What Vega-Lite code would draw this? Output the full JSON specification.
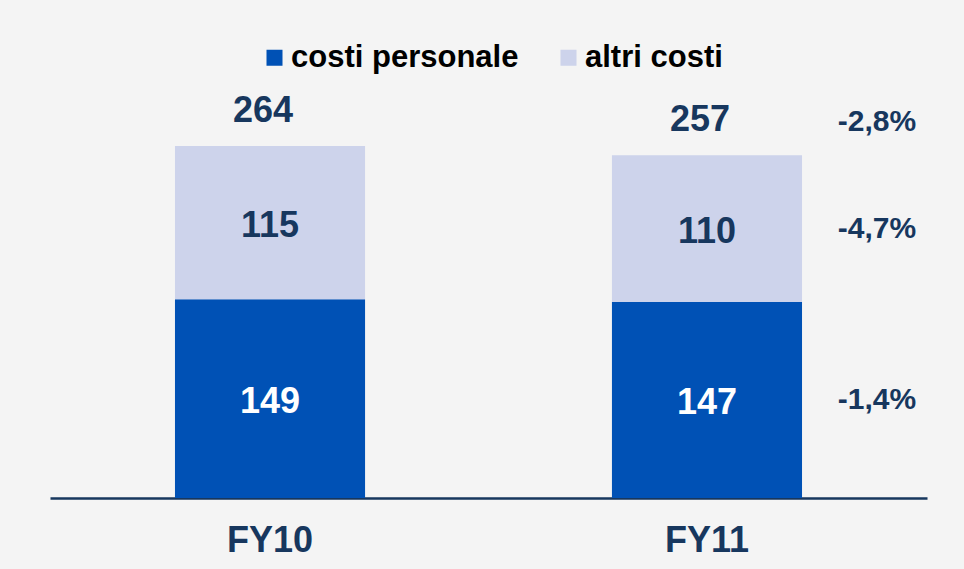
{
  "$schema": "https://vega.github.io/schema/vega-lite/v6.json",
  "width": 877,
  "height": 400,
  "autosize": {"type": "none"},
  "padding": {"left": 50, "top": 98, "right": 37, "bottom": 71},
  "background": "#f4f4f4",
  "config": {
    "view": {"stroke": null},
    "font": "Liberation Sans",
    "text": {"font": "Liberation Sans", "fontWeight": "bold"}
  },
  "datasets": {
    "seg": [
      {"cat": "FY10", "tipo": "costi personale", "ord": 1, "value": 149, "pct": null},
      {"cat": "FY10", "tipo": "altri costi", "ord": 2, "value": 115, "pct": null},
      {"cat": "FY11", "tipo": "costi personale", "ord": 1, "value": 147, "pct": "-1,4%"},
      {"cat": "FY11", "tipo": "altri costi", "ord": 2, "value": 110, "pct": "-4,7%"}
    ],
    "tot": [
      {"cat": "FY10", "total": 264, "pct": null},
      {"cat": "FY11", "total": 257, "pct": "-2,8%"}
    ]
  },
  "layer": [
    {
      "data": {"name": "seg"},
      "mark": {"type": "bar"},
      "encoding": {
        "x": {
          "field": "cat", "type": "nominal", "sort": ["FY10", "FY11"],
          "scale": {"paddingInner": 0.565, "paddingOuter": 0.286},
          "axis": {
            "title": null, "labelAngle": 0, "ticks": false,
            "domainColor": "#17375e", "domainWidth": 2.5,
            "labelFontSize": 36, "labelFontWeight": "bold", "labelColor": "#17375e",
            "labelFont": "Liberation Sans", "labelPadding": 25
          }
        },
        "y": {
          "field": "value", "type": "quantitative", "stack": "zero",
          "scale": {"domain": [0, 300], "nice": false},
          "axis": null
        },
        "order": {"field": "ord", "type": "quantitative"},
        "color": {
          "field": "tipo", "type": "nominal",
          "scale": {"domain": ["costi personale", "altri costi"], "range": ["#0051b5", "#cdd3eb"]},
          "legend": {
            "title": null, "orient": "none", "direction": "horizontal",
            "legendX": 209, "legendY": -56,
            "symbolType": "square", "symbolSize": 256, "symbolStrokeWidth": 0,
            "labelFontSize": 31, "labelFontWeight": "bold", "labelColor": "#000000",
            "labelFont": "Liberation Sans", "labelOffset": 1, "labelLimit": 0, "columnPadding": 34
          }
        }
      }
    },
    {
      "data": {"name": "seg"},
      "transform": [
        {"stack": "value", "groupby": ["cat"], "sort": [{"field": "ord", "order": "ascending"}], "as": ["y0", "y1"]},
        {"calculate": "(datum.y0 + datum.y1) / 2", "as": "mid"}
      ],
      "layer": [
        {
          "mark": {"type": "text", "fontSize": 36, "baseline": "middle", "align": "center", "dy": 3},
          "encoding": {
            "x": {"field": "cat", "type": "nominal", "sort": ["FY10", "FY11"]},
            "y": {"field": "mid", "type": "quantitative"},
            "text": {"field": "value", "type": "quantitative"},
            "color": {"condition": {"test": "datum.tipo === 'costi personale'", "value": "#ffffff"}, "value": "#17375e"}
          }
        },
        {
          "transform": [{"filter": "datum.pct != null"}],
          "mark": {"type": "text", "fontSize": 30, "baseline": "middle", "align": "center", "dx": 170, "color": "#17375e"},
          "encoding": {
            "x": {"field": "cat", "type": "nominal", "sort": ["FY10", "FY11"]},
            "y": {"field": "mid", "type": "quantitative"},
            "text": {"field": "pct", "type": "nominal"}
          }
        }
      ]
    },
    {
      "data": {"name": "tot"},
      "layer": [
        {
          "mark": {"type": "text", "fontSize": 36, "baseline": "alphabetic", "align": "center", "dx": -7, "dy": -24, "color": "#17375e"},
          "encoding": {
            "x": {"field": "cat", "type": "nominal", "sort": ["FY10", "FY11"]},
            "y": {"field": "total", "type": "quantitative"},
            "text": {"field": "total", "type": "quantitative"}
          }
        },
        {
          "transform": [{"filter": "datum.pct != null"}],
          "mark": {"type": "text", "fontSize": 30, "baseline": "alphabetic", "align": "center", "dx": 170, "dy": -24, "color": "#17375e"},
          "encoding": {
            "x": {"field": "cat", "type": "nominal", "sort": ["FY10", "FY11"]},
            "y": {"field": "total", "type": "quantitative"},
            "text": {"field": "pct", "type": "nominal"}
          }
        }
      ]
    }
  ]
}
